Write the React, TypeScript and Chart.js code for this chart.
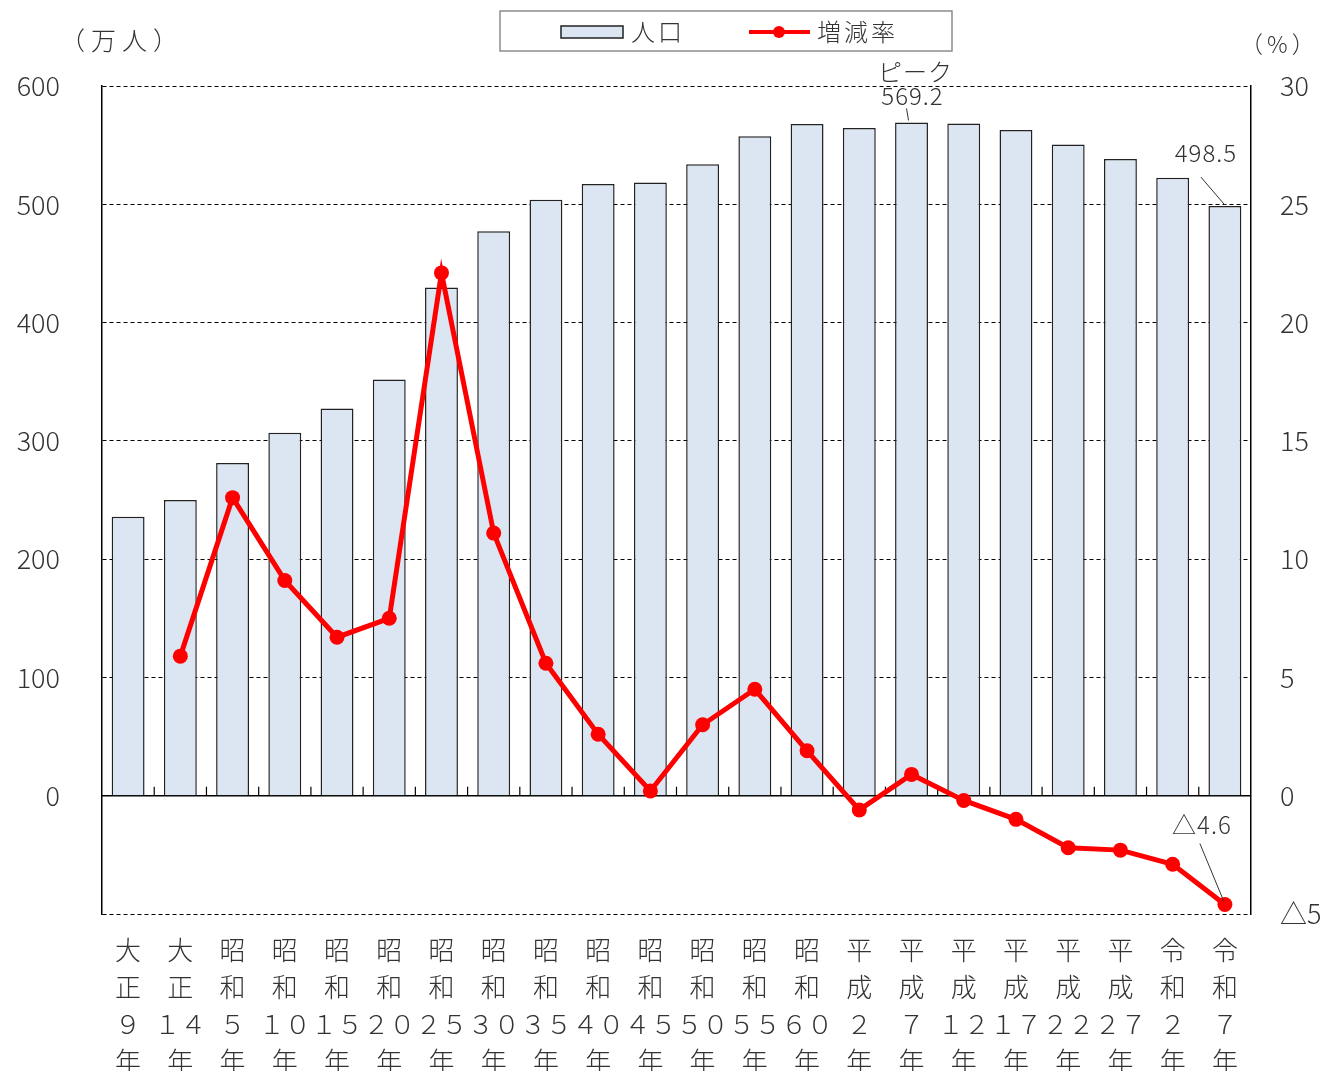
import React, { useEffect, useRef } from "react";
import { Chart, registerables } from "chart.js";

Chart.register(...registerables);

const categories: string[][] = [
  ["大", "正", "９", "年"],
  ["大", "正", "１４", "年"],
  ["昭", "和", "５", "年"],
  ["昭", "和", "１０", "年"],
  ["昭", "和", "１５", "年"],
  ["昭", "和", "２０", "年"],
  ["昭", "和", "２５", "年"],
  ["昭", "和", "３０", "年"],
  ["昭", "和", "３５", "年"],
  ["昭", "和", "４０", "年"],
  ["昭", "和", "４５", "年"],
  ["昭", "和", "５０", "年"],
  ["昭", "和", "５５", "年"],
  ["昭", "和", "６０", "年"],
  ["平", "成", "２", "年"],
  ["平", "成", "７", "年"],
  ["平", "成", "１２", "年"],
  ["平", "成", "１７", "年"],
  ["平", "成", "２２", "年"],
  ["平", "成", "２７", "年"],
  ["令", "和", "２", "年"],
  ["令", "和", "７", "年"],
];

const population: number[] = [
  235.9, 249.9, 281.2, 306.8, 327.3, 351.8, 429.6, 477.3, 503.9, 517.2, 518.4,
  533.8, 557.6, 567.9, 564.4, 569.2, 568.3, 562.8, 550.6, 538.2, 522.5, 498.5,
];

const rate: (number | null)[] = [
  null, 5.9, 12.6, 9.1, 6.7, 7.5, 22.1, 11.1, 5.6, 2.6, 0.2, 3.0, 4.5, 1.9,
  -0.6, 0.9, -0.2, -1.0, -2.2, -2.3, -2.9, -4.6,
];

const seriesNames = ["人口", "増減率"];
const leftTitle = "（万人）";
const rightTitle = "（%）";
const peakLabel = "ピーク";

const FONT = "'Noto Sans CJK JP', 'Noto Sans', sans-serif";
const TEXT = "#333333";
const BAR_FILL = "#dce6f2";
const RED = "#ff0000";

const fmtNeg = (v: number) => (v < 0 ? "△" + Math.abs(v) : String(v));

const decorPlugin = {
  id: "decor",
  beforeDatasetsDraw(chart: any) {
    const { ctx, chartArea, scales } = chart;
    const x = scales.x;
    const y = scales.y;
    const y0 = y.getPixelForValue(0);
    ctx.save();
    ctx.strokeStyle = "#000";
    ctx.lineWidth = 1.5;
    ctx.setLineDash([]);
    ctx.beginPath();
    ctx.moveTo(chartArea.left, y0);
    ctx.lineTo(chartArea.right, y0);
    ctx.stroke();
    ctx.lineWidth = 1.2;
    for (let i = 1; i < categories.length; i++) {
      const bx = (x.getPixelForValue(i - 1) + x.getPixelForValue(i)) / 2;
      ctx.beginPath();
      ctx.moveTo(bx, y0);
      ctx.lineTo(bx, y0 - 9);
      ctx.stroke();
    }
    ctx.restore();
  },
  afterDatasetsDraw(chart: any) {
    const { ctx, scales } = chart;
    const x = scales.x;
    const y = scales.y;
    const y1 = scales.y1;
    ctx.save();
    ctx.fillStyle = TEXT;
    ctx.strokeStyle = "#333";
    ctx.lineWidth = 1;
    ctx.textAlign = "center";
    ctx.textBaseline = "middle";
    ctx.font = `300 24px ${FONT}`;
    (ctx as any).letterSpacing = "1px";

    // peak
    let pk = 0;
    population.forEach((v, i) => {
      if (v > population[pk]) pk = i;
    });
    const px = x.getPixelForValue(pk);
    const py = y.getPixelForValue(population[pk]);
    ctx.fillText(peakLabel, px + 4, py - 51);
    ctx.fillText(population[pk].toFixed(1), px + 1, py - 27);
    ctx.beginPath();
    ctx.moveTo(px - 5, py - 14);
    ctx.lineTo(px - 3, py - 2);
    ctx.stroke();

    // last population
    const li = population.length - 1;
    const lx = x.getPixelForValue(li);
    const ly = y.getPixelForValue(population[li]);
    ctx.fillText(population[li].toFixed(1), lx - 19, ly - 53);
    ctx.beginPath();
    ctx.moveTo(lx - 24, ly - 29);
    ctx.lineTo(lx, ly - 1);
    ctx.stroke();

    // last rate
    const rv = rate[li] as number;
    const ry = y1.getPixelForValue(rv);
    ctx.fillText(fmtNeg(rv), lx - 23, ry - 80);
    ctx.beginPath();
    ctx.moveTo(lx - 25, ry - 61);
    ctx.lineTo(lx - 1, ry - 3);
    ctx.stroke();
    ctx.restore();
  },
  afterDraw(chart: any) {
    const { ctx } = chart;
    ctx.save();
    // axis titles
    ctx.fillStyle = TEXT;
    ctx.textBaseline = "middle";
    ctx.textAlign = "left";
    ctx.font = `300 25px ${FONT}`;
    (ctx as any).letterSpacing = "6px";
    ctx.fillText(leftTitle, 60, 40);
    ctx.font = `300 23px ${FONT}`;
    (ctx as any).letterSpacing = "4px";
    ctx.fillText(rightTitle, 1240, 44);
    (ctx as any).letterSpacing = "0px";

    // legend box
    ctx.strokeStyle = "#8c8c8c";
    ctx.lineWidth = 1.5;
    ctx.strokeRect(500, 11, 452, 40);
    // bar swatch
    ctx.fillStyle = BAR_FILL;
    ctx.fillRect(561, 26, 62, 12);
    ctx.strokeStyle = "#222";
    ctx.lineWidth = 1.5;
    ctx.strokeRect(561, 26, 62, 12);
    ctx.fillStyle = TEXT;
    ctx.font = `300 24px ${FONT}`;
    (ctx as any).letterSpacing = "3px";
    ctx.fillText(seriesNames[0], 631, 32);
    // line swatch
    ctx.strokeStyle = RED;
    ctx.lineWidth = 4;
    ctx.beginPath();
    ctx.moveTo(749, 32);
    ctx.lineTo(810, 32);
    ctx.stroke();
    ctx.fillStyle = RED;
    ctx.beginPath();
    ctx.arc(779, 32, 6, 0, Math.PI * 2);
    ctx.fill();
    ctx.fillStyle = TEXT;
    ctx.fillText(seriesNames[1], 817, 32);
    ctx.restore();
  },
};

export default function App() {
  const ref = useRef<HTMLCanvasElement>(null);
  useEffect(() => {
    if (!ref.current) return;
    const chart = new Chart(ref.current, {
      type: "bar",
      data: {
        labels: categories,
        datasets: [
          {
            type: "line",
            label: seriesNames[1],
            data: rate,
            yAxisID: "y1",
            borderColor: RED,
            backgroundColor: RED,
            borderWidth: 5,
            pointRadius: 7.5,
            pointBackgroundColor: RED,
            pointBorderColor: RED,
            pointBorderWidth: 0,
            borderJoinStyle: "miter",
            tension: 0,
            spanGaps: false,
            order: 0,
          } as any,
          {
            type: "bar",
            label: seriesNames[0],
            data: population,
            yAxisID: "y",
            backgroundColor: BAR_FILL,
            borderColor: "#222",
            borderWidth: 1.5,
            barPercentage: 0.63,
            categoryPercentage: 1.0,
            order: 1,
          } as any,
        ],
      },
      options: {
        responsive: false,
        animation: false,
        layout: { padding: { top: 86, left: 0, right: 0, bottom: 0 } },
        plugins: {
          legend: { display: false },
          tooltip: { enabled: false },
        },
        scales: {
          x: {
            grid: { display: false, drawTicks: false },
            border: { display: false },
            ticks: {
              autoSkip: false,
              maxRotation: 0,
              minRotation: 0,
              padding: 18,
              color: TEXT,
              font: { family: FONT, size: 26, weight: "300", lineHeight: 1.42 },
            },
            afterFit: (s: any) => {
              s.height = 157;
            },
          },
          y: {
            position: "left",
            min: -100,
            max: 600,
            ticks: {
              stepSize: 100,
              padding: 42,
              color: TEXT,
              font: { family: FONT, size: 27, weight: "300" },
              callback: (v: any) => (Number(v) < 0 ? "" : String(v)),
            },
            grid: { color: "#000", lineWidth: 1, drawTicks: false },
            border: { display: true, color: "#000", width: 1.5, dash: [4, 3] },
            afterFit: (s: any) => {
              s.width = 102;
            },
          },
          y1: {
            position: "right",
            min: -5,
            max: 30,
            ticks: {
              stepSize: 5,
              padding: 29,
              color: TEXT,
              font: { family: FONT, size: 27, weight: "300" },
              callback: (v: any) => fmtNeg(Number(v)),
            },
            grid: { drawOnChartArea: false, drawTicks: false },
            border: { display: true, color: "#000", width: 1.5 },
            afterFit: (s: any) => {
              s.width = 80;
            },
          },
        },
      },
      plugins: [decorPlugin],
    });
    return () => chart.destroy();
  }, []);
  return (
    <div style={{ position: "absolute", left: 0, top: 0, width: 1331, height: 1071, background: "#fff" }}>
      <canvas ref={ref} width={1331} height={1071} />
    </div>
  );
}
